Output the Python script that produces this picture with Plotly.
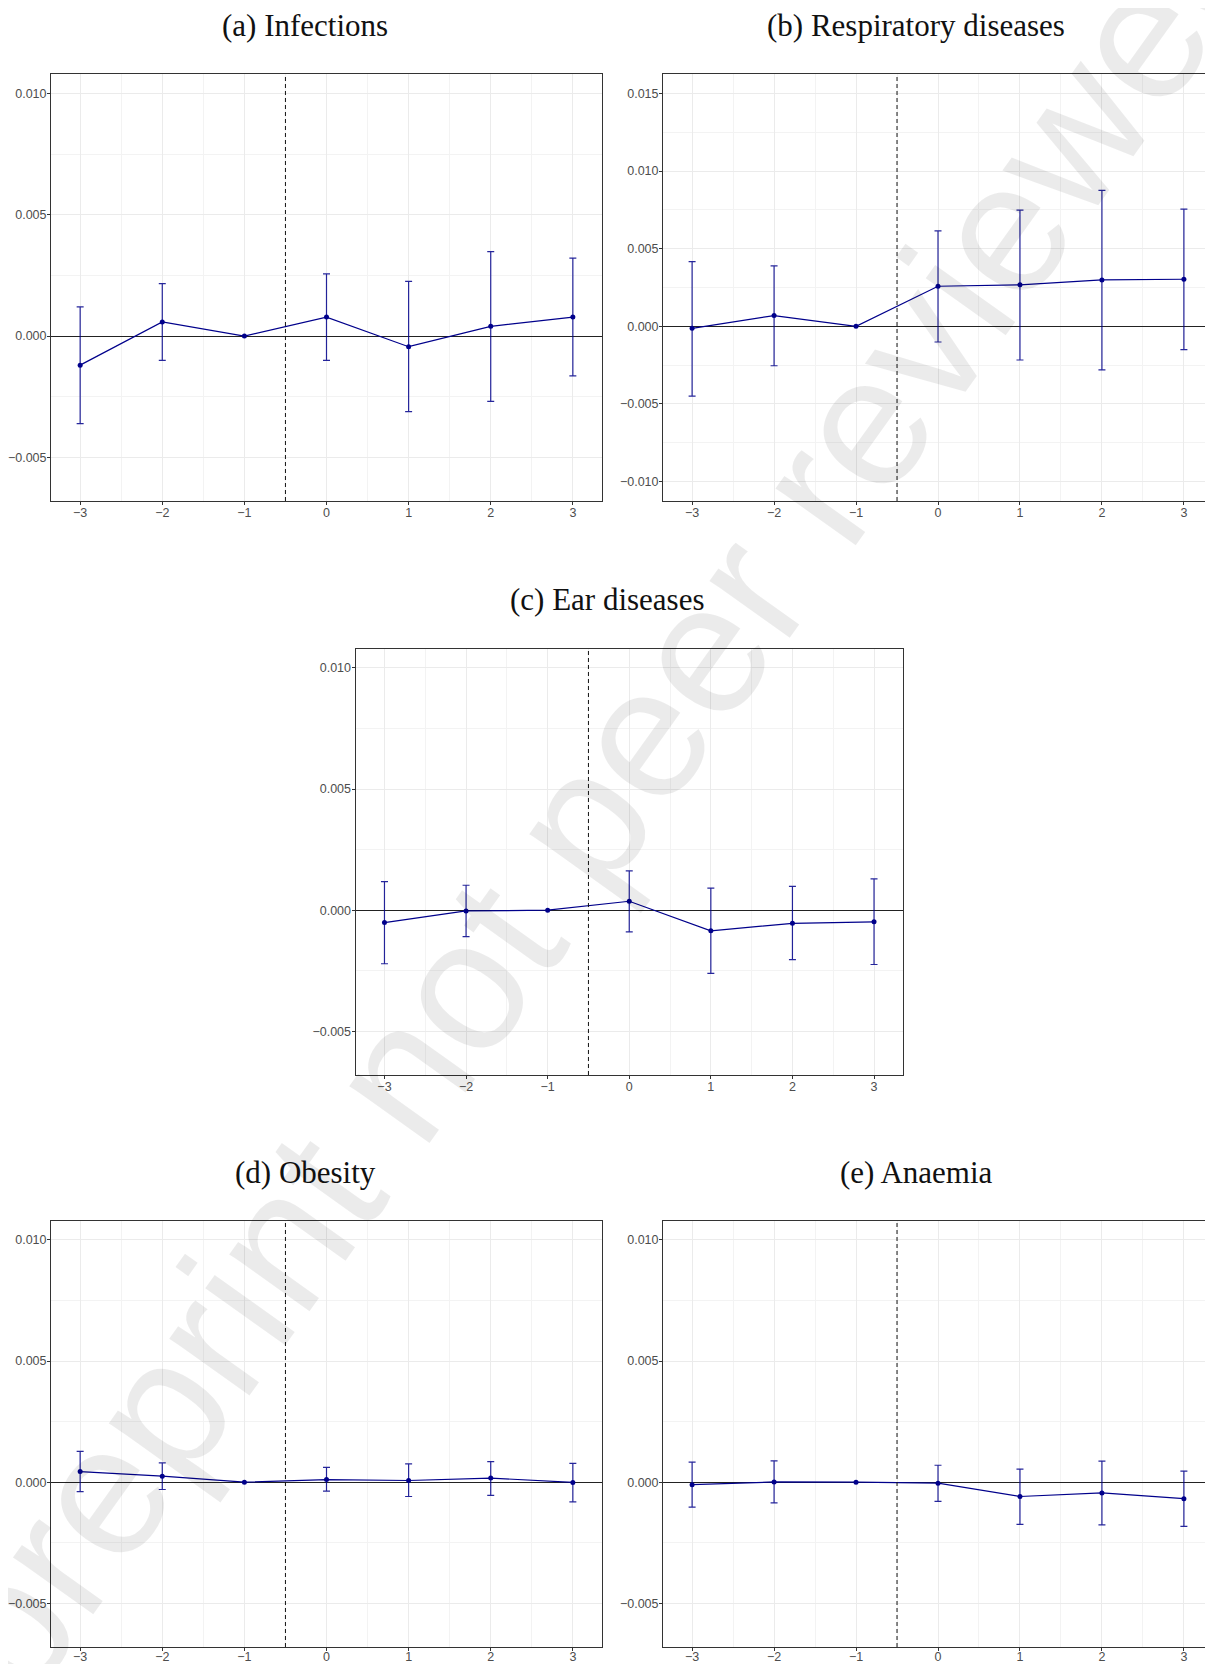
import plotly.graph_objects as go

# ---------------- data ----------------
periods = [-3, -2, -1, 0, 1, 2, 3]
x_ticks = [-3, -2, -1, 0, 1, 2, 3]
treatment_line = -0.5

titles = ["(a) Infections", "(b) Respiratory diseases", "(c) Ear diseases",
          "(d) Obesity", "(e) Anaemia"]

infections_est = [-0.00120, 0.00058, 0.0, 0.00078, -0.00044, 0.00040, 0.00078]
infections_lo = [-0.00361, -0.00100, None, -0.00100, -0.00312, -0.00269, -0.00164]
infections_hi = [0.00120, 0.00216, None, 0.00256, 0.00225, 0.00348, 0.00321]

respiratory_est = [-0.00013, 0.00069, 0.0, 0.00258, 0.00267, 0.00299, 0.00303]
respiratory_lo = [-0.00449, -0.00254, None, -0.00101, -0.00217, -0.00280, -0.00150]
respiratory_hi = [0.00417, 0.00389, None, 0.00615, 0.00748, 0.00875, 0.00755]

ear_est = [-0.00051, -0.00003, 0.0, 0.00037, -0.00085, -0.00054, -0.00048]
ear_lo = [-0.00221, -0.00109, None, -0.00089, -0.00261, -0.00204, -0.00224]
ear_hi = [0.00118, 0.00103, None, 0.00162, 0.00091, 0.00098, 0.00129]

obesity_est = [0.00044, 0.00025, 0.0, 0.00011, 0.00007, 0.00017, -0.00001]
obesity_lo = [-0.00039, -0.00030, None, -0.00037, -0.00059, -0.00054, -0.00081]
obesity_hi = [0.00127, 0.00080, None, 0.00061, 0.00076, 0.00085, 0.00078]

anaemia_est = [-0.00010, 0.00001, 0.0, -0.00004, -0.00059, -0.00044, -0.00068]
anaemia_lo = [-0.00103, -0.00085, None, -0.00079, -0.00174, -0.00176, -0.00182]
anaemia_hi = [0.00083, 0.00088, None, 0.00070, 0.00054, 0.00087, 0.00046]

y_ticks_std = [-0.005, 0.0, 0.005, 0.010]
y_ticks_resp = [-0.010, -0.005, 0.0, 0.005, 0.010, 0.015]
y_limits_std = [-0.006, 0.010]
y_limits_resp = [-0.010, 0.015]

watermark = "preprint not peer reviewed"

# ---------------- layout geometry (page pixels) ----------------
PAGE_W, PAGE_H = 1213, 1664
OFF = 8                      # default body margin of the html page
W, H = PAGE_W - OFF, PAGE_H - OFF


def fx(px):
    return (px - OFF) / W


def fy(py):
    return 1 - (py - OFF) / H


panels = [
    # (est, lo, hi, limits, ticks, x0px, x1px, ytop_px, ybot_px, title_x, title_y, xlabel_standoff)
    (infections_est, infections_lo, infections_hi, y_limits_std, y_ticks_std, 51, 602, 74, 501, 305, 25, -3),
    (respiratory_est, respiratory_lo, respiratory_hi, y_limits_resp, y_ticks_resp, 663, 1213, 74, 501, 916, 25, -3),
    (ear_est, ear_lo, ear_hi, y_limits_std, y_ticks_std, 355.5, 903, 648.5, 1075, 607, 599.5, -3),
    (obesity_est, obesity_lo, obesity_hi, y_limits_std, y_ticks_std, 51, 602, 1220.5, 1647, 305, 1172.5, -5),
    (anaemia_est, anaemia_lo, anaemia_hi, y_limits_std, y_ticks_std, 663, 1213, 1220.5, 1647, 916, 1172.5, -5),
]

LINE_COL = "#00008B"
ERR_COL = "rgba(0,0,139,0.85)"
GRID = "#ebebeb"
GRID_MINOR = "#f3f3f3"
FRAME = "#333333"
TICKFONT = dict(family="Liberation Sans, Arial, sans-serif", size=12.5, color="#4d4d4d")

fig = go.Figure()
layout_axes = {}
shapes = []
annotations = []

for i, (est, lo, hi, lim, yt, x0, x1, yt_px, yb_px, tx, ty, xso) in enumerate(panels, start=1):
    xa = "x" if i == 1 else f"x{i}"
    ya = "y" if i == 1 else f"y{i}"

    # error bars (the reference period has no interval)
    ex = [p for p, l in zip(periods, lo) if l is not None]
    ey = [e for e, l in zip(est, lo) if l is not None]
    eplus = [h - e for e, h, l in zip(est, hi, lo) if l is not None]
    eminus = [e - l for e, l in zip(est, lo) if l is not None]
    fig.add_trace(go.Scatter(
        x=ex, y=ey, mode="markers", xaxis=xa, yaxis=ya,
        marker=dict(size=1, opacity=0),
        error_y=dict(type="data", symmetric=False, array=eplus, arrayminus=eminus,
                     color=ERR_COL, thickness=1.2, width=3.5),
        hoverinfo="skip", showlegend=False))

    # estimates
    fig.add_trace(go.Scatter(
        x=periods, y=est, mode="lines+markers", xaxis=xa, yaxis=ya,
        line=dict(color=LINE_COL, width=1.2),
        marker=dict(color=LINE_COL, size=5),
        showlegend=False))

    span = lim[1] - lim[0]
    yr = [lim[0] - 0.05 * span, lim[1] + 0.05 * span]

    xkey = "xaxis" if i == 1 else f"xaxis{i}"
    ykey = "yaxis" if i == 1 else f"yaxis{i}"
    layout_axes[xkey] = dict(
        domain=[fx(x0), min(fx(x1), 1.0)], anchor=ya, range=[-3.355, 3.355],
        tickmode="array", tickvals=x_ticks,
        showgrid=True, gridcolor=GRID, gridwidth=1.1,
        minor=dict(dtick=0.5, tick0=0, showgrid=True, gridcolor=GRID_MINOR, gridwidth=0.7),
        zeroline=False, showline=True, mirror=True, linecolor=FRAME, linewidth=1,
        ticks="outside", ticklen=3, tickwidth=1, tickcolor=FRAME,
        ticklabelstandoff=xso,
        tickfont=TICKFONT, automargin=False, fixedrange=True)
    layout_axes[ykey] = dict(
        domain=[fy(yb_px), fy(yt_px)], anchor=xa, range=yr,
        tickmode="array", tickvals=yt, tickformat=".3f",
        showgrid=True, gridcolor=GRID, gridwidth=1.1,
        minor=dict(dtick=0.0025, tick0=0, showgrid=True, gridcolor=GRID_MINOR, gridwidth=0.7),
        zeroline=True, zerolinecolor="#222222", zerolinewidth=1.2,
        showline=True, mirror=True, linecolor=FRAME, linewidth=1,
        ticks="outside", ticklen=3, tickwidth=1, tickcolor=FRAME,
        ticklabelstandoff=-2,
        tickfont=TICKFONT, automargin=False, fixedrange=True)

    shapes.append(dict(type="line", xref=xa, yref=f"{ya} domain",
                       x0=treatment_line, x1=treatment_line, y0=0, y1=1,
                       line=dict(color="#111111", width=1, dash="4px,3px"), layer="above"))

    annotations.append(dict(text=titles[i - 1], x=fx(tx), y=fy(ty),
                            xref="paper", yref="paper", xanchor="center", yanchor="middle",
                            showarrow=False,
                            font=dict(family="Liberation Serif, Times New Roman, serif",
                                      size=31, color="#111111")))

# watermark
annotations.append(dict(text=watermark, x=fx(600), y=fy(792), xref="paper", yref="paper",
                        xanchor="center", yanchor="middle", showarrow=False, textangle=-54.5,
                        font=dict(family="Liberation Sans, Arial, sans-serif", size=186,
                                  color="rgba(0,0,0,0.08)")))

fig.update_layout(
    width=W, height=H, margin=dict(l=0, r=0, t=0, b=0),
    paper_bgcolor="white", plot_bgcolor="white", showlegend=False,
    shapes=shapes, annotations=annotations, **layout_axes)

fig.write_html("out.html")
